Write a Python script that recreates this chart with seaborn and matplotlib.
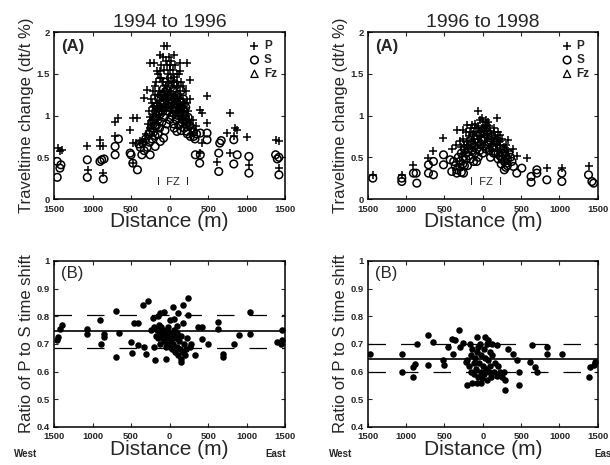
import numpy as np
import pandas as pd
import seaborn as sns
import matplotlib.pyplot as plt
from matplotlib.ticker import FixedLocator, FuncFormatter

sns.set_style('ticks')
plt.rcParams['font.family'] = ['Liberation Sans', 'DejaVu Sans']

# ---- 1994 to 1996, traveltime change (dt/t %) ----
p94_x = [-1445, -1400, -1420, -1068, -1060, -903, -903, -860, -860, -707, -664, -707, -512, -469, -425,
         -469, -440, -477, -338, -295, -252, -208, -130, -78, -35, 17, 52, 139, 226, 269, -165, -121, 139,
         52, 486, 399, 421, 486, 790, 746, 833, 855, 880, 1007, 1029, 616, 399, 421, 790, 1376, 1419, 1419,
         -300, -280, -270, -250, -240, -230, -220, -210, -200, -190, -180, -170, -160, -150, -140, -130,
         -120, -110, -100, -90, -80, -70, -60, -50, -40, -30, -20, -10, 0, 0, 10, 20, 30, 40, 50, 60, 70,
         80, 90, 100, 110, 120, 130, 140, 150, 160, 170, 180, 190, 200, 210, 220, 240, 260, 280, 300, 320,
         340, -320, -350, -380,
         -230, -190, -150, -110, -70, -30, 10, 50, 90, 130, 170, 210, 250, -260, -200, -140, -80, -20, 40,
         100, 160, 220, -120, -40, 40, 120]
p94_y = [0.61, 0.59, 0.57, 0.63, 0.35, 0.71, 0.63, 0.63, 0.31, 0.92, 0.97, 0.75, 0.83, 0.97, 0.97,
         0.67, 0.67, 0.43, 1.21, 1.31, 1.63, 1.63, 1.73, 1.83, 1.83, 1.65, 1.73, 1.63, 1.63, 1.43, 1.53, 1.53, 1.53,
         1.46, 1.23, 1.07, 1.03, 0.91, 1.03, 0.79, 0.75, 0.85, 0.83, 0.74, 0.41, 0.44, 0.55, 0.67, 0.55, 0.71, 0.69, 0.37,
         0.78, 0.90, 1.05, 0.85, 1.20, 0.95, 1.10, 1.30, 0.90, 1.25, 1.05, 1.40, 1.15, 0.95, 1.30, 1.45,
         1.10, 1.60, 1.25, 1.40, 1.05, 1.55, 1.20, 1.65, 1.35, 1.10, 1.50, 1.70, 1.60, 1.30, 1.05, 1.45, 1.20, 1.55, 1.00, 1.35, 1.60,
         1.15, 1.40, 1.25, 1.05, 1.50, 1.30, 1.10, 1.40, 0.95, 1.20, 1.35, 1.00, 1.15, 1.30, 0.90, 1.05, 1.20, 0.85, 0.95, 0.80,
         0.88, 0.72, 0.68, 0.70,
         1.15, 1.35, 1.50, 1.45, 1.30, 1.60, 1.55, 1.25, 1.50, 1.20, 1.05, 1.00, 0.95, 0.98, 1.12, 1.05, 1.70, 1.40, 1.40,
         1.35, 1.10, 1.15, 1.25, 1.20, 1.10, 1.00]
s94_x = [-1458, -1410, -1423, -1458, -1068, -1068, -903, -881, -850, -860, -707, -707, -664, -512, -500,
         -477, -417, -360, -252, -187, -121, -78, 95, 226, 313, 399, 486, 486, 334, 399, 390, 638, 651, 670,
         638, 833, 833, 877, 1029, 1029, 1376, 1398, 1419, 1419,
         -400, -380, -350, -330, -310, -290, -270, -260, -240, -230, -220, -210, -200, -190, -180, -170,
         -160, -150, -140, -130, -120, -110, -100, -90, -80, -70, -60, -50, -40, -30, -20, -10, 0, 10, 20,
         30, 40, 50, 60, 70, 80, 90, 100, 110, 120, 130, 140, 150, 160, 170, 180, 190, 200, 210, 220, 230,
         240, 260, 270, 290, 310, 330, 350, -150, -60, 60, 150,
         -250, -210, -170, -130, -90, -50, -10, 30, 70, 110, 150, 190, 230, -190, -110, -30, 50, 130, 210,
         -70, 10, 90, 170, -150, 150]
s94_y = [0.45, 0.41, 0.37, 0.26, 0.47, 0.26, 0.45, 0.47, 0.48, 0.24, 0.53, 0.63, 0.72, 0.55, 0.53,
         0.43, 0.35, 0.53, 0.53, 0.63, 0.69, 0.73, 0.81, 0.81, 0.75, 0.79, 0.79, 0.71, 0.53, 0.53, 0.43, 0.55, 0.67, 0.70,
         0.33, 0.71, 0.42, 0.53, 0.51, 0.31, 0.53, 0.48, 0.50, 0.29,
         0.66, 0.62, 0.67, 0.58, 0.72, 0.62, 0.78, 0.68, 0.85, 0.72, 0.92, 0.80, 0.98, 0.76, 1.05, 0.88,
         1.12, 0.95, 1.20, 0.85, 1.02, 1.25, 0.92, 1.15, 1.32, 0.98, 1.10, 1.40, 0.90, 1.22, 1.05, 1.35, 0.95, 1.45, 1.15,
         1.00, 1.30, 0.90, 1.20, 1.38, 1.05, 0.95, 1.25, 1.12, 0.88, 1.18, 1.00, 1.30, 0.92, 1.08, 1.20, 0.85, 1.00, 1.10, 0.90, 0.78,
         0.98, 0.88, 0.75, 0.85, 0.80, 0.72, 0.78, 0.78, 0.82, 0.85, 0.82,
         0.80, 0.95, 1.00, 1.10, 1.05, 1.20, 1.10, 1.25, 1.10, 1.00, 1.15, 1.05, 0.92, 0.88, 1.15, 1.30, 1.10, 1.05, 0.95,
         1.25, 1.20, 1.15, 0.95, 1.05, 1.10]
fz94_x = [-130, -90, -40, 10, 60, 110]
fz94_y = [1.22, 1.28, 1.18, 1.25, 1.15, 1.10]

# ---- 1996 to 1998, traveltime change (dt/t %) ----
p98_x = [-1435, -1057, -905, -709, -644, -513, -339, -252, -209, -143, -57, -13, 61, 183, 226, 335, 574,
         835, 1031, 1379, -300, -350, -400, 400, 450,
         -280, -260, -240, -220, -200, -180, -160, -140, -120, -100, -80, -60, -40, -20, 0, 20, 40, 60, 80,
         100, 120, 140, 160, 180, 200, 220, 250, 280, 300, 330,
         -250, -210, -170, -130, -90, -50, -10, 30, 70, 110, 150, 190, 230, 270, -190, -110, -30, 50, 130, 210]
p98_y = [0.29, 0.29, 0.41, 0.49, 0.57, 0.73, 0.83, 0.83, 0.89, 0.89, 1.05, 0.97, 0.89, 0.97, 0.77, 0.71, 0.49,
         0.37, 0.37, 0.40, 0.70, 0.65, 0.60, 0.60, 0.52,
         0.62, 0.72, 0.55, 0.80, 0.65, 0.75, 0.85, 0.70, 0.80, 0.90, 0.75, 0.88, 0.95, 0.80, 0.92, 0.85, 0.95, 0.78, 0.88,
         0.82, 0.72, 0.85, 0.75, 0.68, 0.80, 0.65, 0.72, 0.60, 0.65, 0.58,
         0.65, 0.70, 0.80, 0.78, 0.85, 0.80, 0.85, 0.88, 0.92, 0.78, 0.80, 0.72, 0.70, 0.62, 0.60, 0.72, 0.75, 0.82, 0.70, 0.58]
s98_x = [-1435, -1057, -1057, -905, -870, -861, -709, -709, -644, -644, -513, -513, -426, -405, -339, -252,
         313, 400, 443, 509, 630, 630, 705, 705, 835, 1031, 1031, 1379, 1423, 1445,
         -380, -360, -320, -300, -280, -260, -240, -220, -200, -180, -160, -140, -120, -100, -80, -60, -40,
         -20, 0, 0, 20, 40, 60, 80, 100, 120, 140, 160, 180, 200, 220, 240, 260, 280, 300, 320, 340, 360, 380,
         -340, -300, -260, -220, -180, -140, -100, -60, -20, 20, 60, 100, 140, 180, 220, 260, 300, -240, -160,
         -80, 0, 80, 160, 240, -120, -40, 40, 120, 200, -200, -280, 280, 320]
s98_y = [0.25, 0.21, 0.25, 0.31, 0.31, 0.19, 0.41, 0.31, 0.29, 0.45, 0.53, 0.41, 0.47, 0.33, 0.31, 0.31,
         0.43, 0.39, 0.31, 0.37, 0.27, 0.20, 0.31, 0.35, 0.23, 0.21, 0.31, 0.29, 0.21, 0.19,
         0.45, 0.40, 0.50, 0.38, 0.55, 0.42, 0.60, 0.48, 0.65, 0.52, 0.70, 0.58, 0.45, 0.72, 0.60, 0.50, 0.78,
         0.65, 0.82, 0.55, 0.72, 0.60, 0.80, 0.68, 0.50, 0.75, 0.62, 0.55, 0.70, 0.48, 0.60, 0.42, 0.55, 0.45, 0.52, 0.40, 0.55, 0.50, 0.45,
         0.35, 0.45, 0.50, 0.55, 0.60, 0.65, 0.55, 0.68, 0.72, 0.78, 0.65, 0.70, 0.55, 0.62, 0.52, 0.48, 0.38, 0.40, 0.48,
         0.45, 0.70, 0.58, 0.68, 0.50, 0.62, 0.58, 0.85, 0.62, 0.55, 0.40, 0.32, 0.35, 0.48]
fz98_x = [-100, -30, 30, 90]
fz98_y = [0.65, 0.70, 0.68, 0.62]

# ---- ratio of P to S time shift ----
r94_x = [-1455, -1442, -1420, -1398, -1071, -1071, -905, -896, -853, -853, -699, -699, -651, -503, -490,
         -459, -415, -415, -350, -284, -306, -330, -240, -218, -200, -184, -66, 0, 44, 109, 175, 240, 240,
         153, 153, 284, 328, 371, 415, 415, 502, 633, 633, 699, 699, 830, 896, 1049, 1049, 1398, 1442, 1464, 1464,
         -180, -160, -150, -140, -130, -120, -110, -100, -90, -80, -70, -60, -50, -40, -30, -20, -10, 0, 10,
         20, 30, 40, 50, 60, 70, 80, 90, 100, 110, 120, 130, 150, 170, 190, 210, 230, 260, -150, -120, -200,
         -50, 100, 180, 60, 200]
r94_y = [0.713, 0.725, 0.755, 0.767, 0.752, 0.737, 0.788, 0.700, 0.735, 0.725, 0.819, 0.651, 0.740, 0.707, 0.667,
         0.776, 0.776, 0.695, 0.841, 0.855, 0.665, 0.690, 0.749, 0.795, 0.760, 0.641, 0.815, 0.785, 0.834, 0.810, 0.840, 0.864, 0.803,
         0.647, 0.635, 0.700, 0.659, 0.761, 0.761, 0.719, 0.700, 0.779, 0.755, 0.665, 0.653, 0.700, 0.731, 0.816, 0.735, 0.707, 0.700, 0.749, 0.715,
         0.73, 0.75, 0.72, 0.77, 0.74, 0.70, 0.76, 0.73, 0.72, 0.75, 0.71, 0.74, 0.69, 0.73, 0.70, 0.76, 0.72, 0.69, 0.74,
         0.71, 0.68, 0.73, 0.70, 0.75, 0.67, 0.72, 0.69, 0.74, 0.66, 0.71, 0.68, 0.73, 0.67, 0.70, 0.68, 0.72, 0.69, 0.80, 0.81, 0.69,
         0.645, 0.765, 0.775, 0.79, 0.66]
r98_x = [-1470, -1048, -1048, -905, -883, -905, -861, -709, -709, -644, -513, -500, -448, -404, -392, -361,
         -305, -296, -252, -222, -209, -143, -78, -78, 30, 74, 183, 291, 291, 335, 400, 443, 478, 478, 639,
         618, 687, 709, 835, 835, 1031, 1379, 1401, 1444, 1466,
         -200, -180, -160, -150, -140, -120, -110, -100, -90, -80, -60, -50, -40, -30, -20, -10, 0, 10, 20,
         30, 40, 50, 60, 70, 80, 90, 100, 110, 120, 140, 160, 180, 200, 220, 250, 280, -170, -60, 120, -30]
r98_y = [0.665, 0.665, 0.599, 0.617, 0.629, 0.581, 0.699, 0.731, 0.623, 0.705, 0.641, 0.623, 0.689, 0.719, 0.665, 0.713,
         0.749, 0.689, 0.703, 0.635, 0.551, 0.557, 0.557, 0.725, 0.725, 0.713, 0.695, 0.568, 0.533, 0.683, 0.665, 0.641, 0.599, 0.551, 0.695,
         0.635, 0.617, 0.599, 0.689, 0.665, 0.665, 0.581, 0.617, 0.623, 0.635,
         0.64, 0.62, 0.66, 0.60, 0.68, 0.63, 0.59, 0.65, 0.61, 0.67, 0.58, 0.63, 0.70, 0.60, 0.66, 0.575, 0.62, 0.68, 0.59,
         0.65, 0.61, 0.70, 0.57, 0.64, 0.60, 0.67, 0.62, 0.58, 0.66, 0.60, 0.63, 0.585, 0.62, 0.60, 0.58, 0.60, 0.70, 0.69, 0.70, 0.56]

# mean ratio and +/- bounds
r94_mean, r94_hi, r94_lo = 0.746, 0.805, 0.685
r98_mean, r98_hi, r98_lo = 0.647, 0.700, 0.598

titles = ['1994 to 1996', '1996 to 1998']
dist_ticks = [-1500, -1000, -500, 0, 500, 1000, 1500]

fig = plt.figure(figsize=(6.1, 4.65), dpi=100)
ax_tl = fig.add_axes([0.0885, 0.572, 0.379, 0.359])
ax_tr = fig.add_axes([0.603, 0.572, 0.377, 0.359])
ax_bl = fig.add_axes([0.0885, 0.082, 0.379, 0.357])
ax_br = fig.add_axes([0.603, 0.082, 0.377, 0.357])


def style_axes(ax, ylim, yticks, ylabel):
    ax.set_xlim(-1500, 1500)
    ax.set_ylim(*ylim)
    ax.xaxis.set_major_locator(FixedLocator(dist_ticks))
    ax.xaxis.set_major_formatter(FuncFormatter(lambda v, p: '%d' % abs(v)))
    ax.set_yticks(yticks)
    ax.yaxis.set_major_formatter(FuncFormatter(lambda v, p: ('%g' % round(v, 2))))
    ax.tick_params(direction='in', top=True, right=True, length=3, width=0.8,
                   labelsize=6.8)
    ax.tick_params(axis='x', pad=4)
    ax.tick_params(axis='y', pad=3)
    for lab in ax.get_xticklabels() + ax.get_yticklabels():
        lab.set_fontweight('bold')
    for sp in ax.spines.values():
        sp.set_linewidth(1.1)
        sp.set_color('black')
    ax.set_xlabel('Distance (m)', fontsize=15, labelpad=-1)
    ax.set_ylabel(ylabel, fontsize=12, labelpad=2)


tops = [(ax_tl, p94_x, p94_y, s94_x, s94_y, fz94_x, fz94_y),
        (ax_tr, p98_x, p98_y, s98_x, s98_y, fz98_x, fz98_y)]
for i, (ax, px, py, sx, sy, fx, fy) in enumerate(tops):
    sns.scatterplot(x=sx, y=sy, ax=ax, marker='o', s=30, facecolor='none',
                    edgecolor='black', linewidth=1.1, label='S', zorder=2)
    sns.scatterplot(x=px, y=py, ax=ax, marker='+', s=40, color='black',
                    linewidth=1.1, label='P', zorder=3)
    sns.scatterplot(x=fx, y=fy, ax=ax, marker='^', s=28, facecolor='none',
                    edgecolor='black', linewidth=0.9, label='Fz', zorder=2)
    h, l = ax.get_legend_handles_labels()
    order = [l.index('P'), l.index('S'), l.index('Fz')]
    ax.legend([h[k] for k in order], [l[k] for k in order], loc='upper right',
              frameon=False, handletextpad=0.2, labelspacing=0.15,
              borderaxespad=0.3, handlelength=1.2, prop={'weight': 'bold', 'size': 8.5})
    style_axes(ax, (0, 2), [0, 0.5, 1, 1.5, 2], 'Traveltime change (dt/t %)')
    ax.set_title(titles[i], fontsize=14, pad=4)
    ax.text(0.03, 0.96, '(A)', transform=ax.transAxes, ha='left', va='top',
            fontsize=12, fontweight='bold')
    ax.text(40, 0.2, 'I  FZ  I', ha='center', va='center', fontsize=8)

bots = [(ax_bl, r94_x, r94_y, r94_mean, r94_hi, r94_lo),
        (ax_br, r98_x, r98_y, r98_mean, r98_hi, r98_lo)]
for ax, rx, ry, m, hi, lo in bots:
    sns.scatterplot(x=rx, y=ry, ax=ax, marker='o', s=22, color='black',
                    edgecolor='black', linewidth=0, zorder=3)
    ax.axhline(m, color='black', lw=1.2, zorder=2)
    for v in (hi, lo):
        ax.axhline(v, color='black', lw=0.9, dashes=(14, 12), zorder=2)
    style_axes(ax, (0.4, 1.0), [0.4, 0.5, 0.6, 0.7, 0.8, 0.9, 1.0],
               'Ratio of P to S time shift')
    ax.text(0.03, 0.97, '(B)', transform=ax.transAxes, ha='left', va='top',
            fontsize=12)

fig.text(0.023, 0.017, 'West', fontsize=7, fontweight='bold')
fig.text(0.435, 0.017, 'East', fontsize=7, fontweight='bold')
fig.text(0.54, 0.017, 'West', fontsize=7, fontweight='bold')
fig.text(0.975, 0.017, 'East', fontsize=7, fontweight='bold')

fig.savefig('out.png', dpi=100)
